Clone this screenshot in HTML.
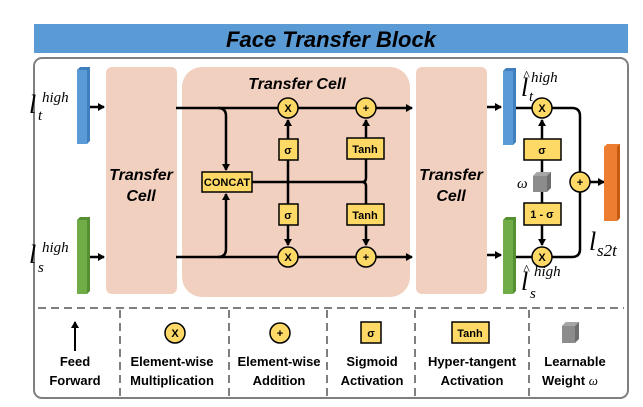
<!DOCTYPE html>
<html><head><style>
html,body{margin:0;padding:0;background:#fff;}
svg{display:block;}
.t{font-family:"Liberation Sans",sans-serif;font-weight:bold;fill:#000;}
.m{font-family:"Liberation Serif",serif;font-style:italic;fill:#000;}
</style></head><body>
<svg width="643" height="407" viewBox="0 0 643 407" xmlns="http://www.w3.org/2000/svg">
<defs>
<marker id="a" markerWidth="8" markerHeight="8" refX="6" refY="4" orient="auto" markerUnits="userSpaceOnUse"><path d="M0,0 L7,4 L0,8 z" fill="#000"/></marker>
</defs>
<!-- title -->
<rect x="34" y="24" width="594" height="29" fill="#5b9bd5"/>
<text x="331" y="47" text-anchor="middle" class="t" font-style="italic" font-size="22">Face Transfer Block</text>
<!-- outer box -->
<rect x="34" y="58" width="594" height="340" rx="8" fill="#fff" stroke="#7f7f7f" stroke-width="2"/>
<!-- left bars -->
<rect x="77" y="70" width="10" height="74" fill="#5b9bd5"/><path d="M77,70 L80,67 L90,67 L90,141 L87,144 L87,70 z" fill="#3f7fbf"/>
<rect x="77" y="220" width="10" height="74" fill="#70ad47"/><path d="M77,220 L80,217 L90,217 L90,291 L87,294 L87,220 z" fill="#548f32"/>
<text x="29" y="113" class="m" font-size="26">l</text><text x="42" y="102" class="m" font-size="15">high</text><text x="38" y="120" class="m" font-size="15">t</text>
<text x="29" y="263" class="m" font-size="26">l</text><text x="42" y="252" class="m" font-size="15">high</text><text x="38" y="272" class="m" font-size="15">s</text>
<line x1="90" y1="107" x2="104" y2="107" stroke="#000" stroke-width="2.5" marker-end="url(#a)"/>
<line x1="90" y1="257" x2="104" y2="257" stroke="#000" stroke-width="2.5" marker-end="url(#a)"/>
<!-- cells -->
<rect x="106" y="67" width="71" height="227" rx="6" fill="#f2d0bf"/>
<text x="141" y="180" text-anchor="middle" class="t" font-style="italic" font-size="16">Transfer</text>
<text x="141" y="201" text-anchor="middle" class="t" font-style="italic" font-size="16">Cell</text>
<rect x="182" y="67" width="228" height="230" rx="20" fill="#f2d0bf"/>
<text x="297" y="89" text-anchor="middle" class="t" font-style="italic" font-size="16">Transfer Cell</text>
<rect x="416" y="67" width="71" height="227" rx="6" fill="#f2d0bf"/>
<text x="451" y="180" text-anchor="middle" class="t" font-style="italic" font-size="16">Transfer</text>
<text x="451" y="201" text-anchor="middle" class="t" font-style="italic" font-size="16">Cell</text>
<!-- inner lines -->
<g stroke="#000" stroke-width="2.5" fill="none">
<line x1="176" y1="108" x2="412" y2="108" marker-end="url(#a)"/>
<line x1="176" y1="257" x2="412" y2="257" marker-end="url(#a)"/>
<path d="M218,108 Q226,108 226,116 L226,170" marker-end="url(#a)"/>
<path d="M218,257 Q226,257 226,249 L226,194" marker-end="url(#a)"/>
<line x1="252" y1="182" x2="362" y2="182"/>
<line x1="288" y1="139" x2="288" y2="120" marker-end="url(#a)"/>
<line x1="288" y1="160" x2="288" y2="204"/>
<line x1="288" y1="225" x2="288" y2="245" marker-end="url(#a)"/>
<line x1="366" y1="138" x2="366" y2="120" marker-end="url(#a)"/>
<path d="M366,159 L366,178 Q366,182 362,182 Q366,182 366,186 L366,204"/>
<line x1="366" y1="225" x2="366" y2="245" marker-end="url(#a)"/>
</g>
<g stroke="#000" stroke-width="1.5" fill="#ffd966">
<circle cx="288" cy="108" r="10"/><circle cx="366" cy="108" r="10"/>
<circle cx="288" cy="257" r="10"/><circle cx="366" cy="257" r="10"/>
<rect x="279" y="139" width="19" height="21"/><rect x="279" y="204" width="19" height="21"/>
<rect x="347" y="138" width="37" height="21"/><rect x="347" y="204" width="37" height="21"/>
<rect x="202" y="172" width="50" height="20"/>
</g>
<g class="t" font-size="11" text-anchor="middle">
<text x="288" y="112">X</text><text x="366" y="112">+</text>
<text x="288" y="261">X</text><text x="366" y="261">+</text>
<text x="288" y="154">σ</text><text x="288" y="219">σ</text>
<text x="365" y="153">Tanh</text><text x="365" y="219">Tanh</text>
<text x="227" y="186">CONCAT</text>
</g>
<!-- right side -->
<line x1="487" y1="107" x2="501" y2="107" stroke="#000" stroke-width="2.5" marker-end="url(#a)"/>
<line x1="487" y1="255" x2="501" y2="255" stroke="#000" stroke-width="2.5" marker-end="url(#a)"/>
<rect x="503" y="71" width="10" height="74" fill="#5b9bd5"/><path d="M503,71 L506,68 L516,68 L516,142 L513,145 L513,71 z" fill="#3f7fbf"/>
<rect x="503" y="220" width="10" height="74" fill="#70ad47"/><path d="M503,220 L506,217 L516,217 L516,291 L513,294 L513,220 z" fill="#548f32"/>
<g stroke="#000" stroke-width="2.5" fill="none">
<line x1="516" y1="108" x2="532" y2="108"/><line x1="516" y1="257" x2="532" y2="257"/>
<path d="M552,108 L572,108 Q580,108 580,116 L580,249 Q580,257 572,257 L552,257"/>
<line x1="590" y1="182" x2="604" y2="182" marker-end="url(#a)"/>
<line x1="542" y1="139" x2="542" y2="120" marker-end="url(#a)"/>
<line x1="542" y1="160" x2="542" y2="203"/>
<line x1="542" y1="225" x2="542" y2="245" marker-end="url(#a)"/>
</g>
<g stroke="#000" stroke-width="1.5" fill="#ffd966">
<circle cx="542" cy="108" r="10"/><circle cx="542" cy="257" r="10"/><circle cx="580" cy="182" r="10"/>
<rect x="524" y="139" width="37" height="21"/><rect x="524" y="203" width="37" height="22"/>
</g>
<rect x="533" y="176" width="14" height="16" fill="#8c8c8c"/><path d="M533,176 L537,172 L551,172 L551,188 L547,192 L547,176 z" fill="#6e6e6e"/><path d="M533,176 L537,172 L551,172 L547,176 z" fill="#a6a6a6"/>
<g class="t" font-size="11" text-anchor="middle">
<text x="542" y="112">X</text><text x="542" y="261">X</text><text x="580" y="186">+</text>
<text x="542" y="154">σ</text><text x="542" y="218">1 - σ</text>
</g>
<text x="517" y="188" class="m" font-size="15">ω</text>
<path d="M604,147 L607,144 L620,144 L620,218 L617,221 L604,221 z" fill="#ed7d31"/><path d="M617,147 L620,144 L620,218 L617,221 z" fill="#c55a11"/>
<text x="589" y="250" class="m" font-size="26">l</text><text x="597" y="256" class="m" font-size="17">s2t</text>
<text x="521" y="96" class="m" font-size="26">l</text><text x="523" y="80" class="m" font-size="14">^</text><text x="531" y="82" class="m" font-size="15">high</text><text x="529" y="101" class="m" font-size="15">t</text>
<text x="521" y="290" class="m" font-size="26">l</text><text x="523" y="274" class="m" font-size="14">^</text><text x="534" y="276" class="m" font-size="15">high</text><text x="530" y="298" class="m" font-size="15">s</text>
<!-- legend -->
<g stroke="#7f7f7f" stroke-width="2" stroke-dasharray="8,5">
<line x1="38" y1="308" x2="624" y2="308"/>
<line x1="120" y1="310" x2="120" y2="396"/><line x1="229" y1="310" x2="229" y2="396"/>
<line x1="327" y1="310" x2="327" y2="396"/><line x1="415" y1="310" x2="415" y2="396"/>
<line x1="529" y1="310" x2="529" y2="396"/>
</g>
<line x1="75" y1="351" x2="75" y2="322" stroke="#000" stroke-width="2" marker-end="url(#a)"/>
<circle cx="175" cy="333" r="10" fill="#ffd966" stroke="#000" stroke-width="1.5"/>
<circle cx="280" cy="333" r="10" fill="#ffd966" stroke="#000" stroke-width="1.5"/>
<rect x="361" y="322" width="20" height="21" fill="#ffd966" stroke="#000" stroke-width="1.5"/>
<rect x="452" y="322" width="37" height="21" fill="#ffd966" stroke="#000" stroke-width="1.5"/>
<rect x="562" y="326" width="13" height="17" fill="#8c8c8c"/><path d="M562,326 L566,322 L579,322 L579,339 L575,343 L575,326 z" fill="#6e6e6e"/><path d="M562,326 L566,322 L579,322 L575,326 z" fill="#a6a6a6"/>
<g class="t" font-size="11" text-anchor="middle">
<text x="175" y="337">X</text><text x="280" y="337">+</text><text x="371" y="337">σ</text><text x="470" y="337">Tanh</text>
</g>
<g class="t" font-size="13" font-weight="normal" text-anchor="middle" style="font-weight:bold">
<text x="75" y="366">Feed</text><text x="75" y="385">Forward</text>
<text x="172" y="366">Element-wise</text><text x="172" y="385">Multiplication</text>
<text x="279" y="366">Element-wise</text><text x="279" y="385">Addition</text>
<text x="372" y="366">Sigmoid</text><text x="372" y="385">Activation</text>
<text x="472" y="366">Hyper-tangent</text><text x="472" y="385">Activation</text>
<text x="575" y="366">Learnable</text><text x="570" y="385">Weight <tspan class="m" font-weight="normal">ω</tspan></text>
</g>
</svg>
</body></html>
